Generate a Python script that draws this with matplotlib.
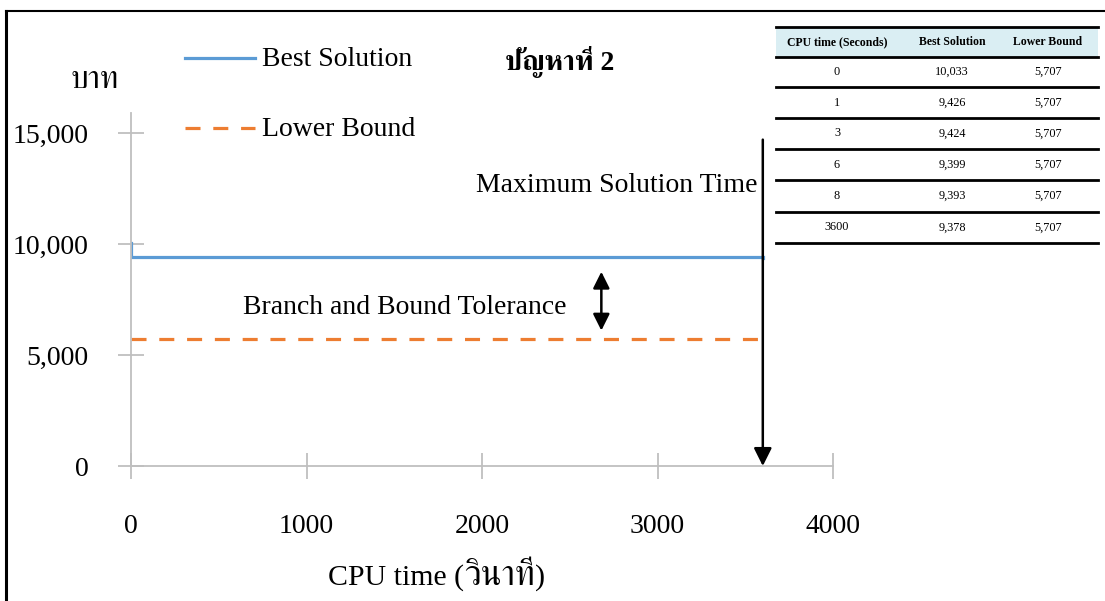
import matplotlib
matplotlib.use("Agg")
import matplotlib.pyplot as plt
from matplotlib import font_manager
from matplotlib.ft2font import FT2Font
from matplotlib.lines import Line2D
from matplotlib.patches import Rectangle

# ---- data -------------------------------------------------------------
cpu_time = [0, 1, 3, 6, 8, 3600]
best_solution = [10033, 9426, 9424, 9399, 9393, 9378]
lower_bound = [5707, 5707, 5707, 5707, 5707, 5707]

x_ticks = [0, 1000, 2000, 3000, 4000]
y_ticks = [0, 5000, 10000, 15000]
y_tick_labels = ["0", "5,000", "10,000", "15,000"]

max_time = 3600
tol_x = 2680
tol_top, tol_bottom = 8750, 6100

table_header = ["CPU time (Seconds)", "Best Solution", "Lower Bound"]

# ---- fonts ------------------------------------------------------------
def thai_family():
    found = []
    for fe in font_manager.fontManager.ttflist:
        try:
            cmap = FT2Font(fe.fname).get_charmap()
        except Exception:
            continue
        if 0x0E1A in cmap:
            found.append(fe.name)
    if not found:
        return None
    for key in ("Serif", "Norasi", "Kinnari", "Garuda", "Loma"):
        for n in found:
            if key in n:
                return n
    return found[0]

thai = thai_family()
serif = ["Liberation Serif"] + ([thai] if thai else []) + ["DejaVu Sans"]
plt.rcParams["font.family"] = serif

W, H = 1105, 601
fig = plt.figure(figsize=(W / 100, H / 100), dpi=100)


def px(x, y):
    return x / W, 1 - y / H


# ---- axes -------------------------------------------------------------
x0, x1, y0, y1 = 131, 833, 466, 113
ax = fig.add_axes([x0 / W, 1 - y0 / H, (x1 - x0) / W, (y0 - y1) / H])
ax.set_xlim(0, 4000)
ax.set_ylim(0, 15900)
for s in ("top", "right"):
    ax.spines[s].set_visible(False)
for s in ("left", "bottom"):
    ax.spines[s].set_color("#bfbfbf")
    ax.spines[s].set_linewidth(1.3)
ax.set_xticks(x_ticks)
ax.set_yticks(y_ticks)
ax.set_yticklabels(y_tick_labels)
ax.tick_params(axis="both", direction="inout", length=19, width=1.3,
               color="#bfbfbf", labelsize=20)
ax.tick_params(axis="y", pad=21)
ax.tick_params(axis="x", pad=25)
ax.patch.set_alpha(0)

ax.step(cpu_time, best_solution, where="post", color="#5b9bd5", lw=2.3,
        solid_joinstyle="miter")
ax.plot([cpu_time[0], cpu_time[-1]], [lower_bound[0], lower_bound[-1]],
        color="#ed7d31", lw=2.3, dashes=(4.7, 4.0))

# arrows
ax.annotate("", xy=(max_time, 0), xytext=(max_time, 14700),
            arrowprops=dict(arrowstyle="-|>", color="black", lw=1.8,
                            mutation_scale=27, shrinkA=0, shrinkB=0),
            annotation_clip=False)
ax.annotate("", xy=(tol_x, tol_bottom), xytext=(tol_x, tol_top),
            arrowprops=dict(arrowstyle="<|-|>", color="black", lw=1.8,
                            mutation_scale=25, shrinkA=0, shrinkB=0))

# ---- text -------------------------------------------------------------
fig.text(*px(95, 80), "บาท", fontsize=23, ha="center", va="center")
fig.text(*px(560, 62), "ปัญหาที่ 2", fontsize=20, fontweight="bold",
         ha="center", va="center")
fig.text(*px(757, 186), "Maximum Solution Time", fontsize=20,
         ha="right", va="center")
fig.text(*px(405, 308), "Branch and Bound Tolerance", fontsize=20,
         ha="center", va="center")

# x-axis title: Latin and Thai parts set at their own sizes
renderer = fig.canvas.get_renderer()
parts = [("CPU time (", 21.5), ("วินาที", 25), (")", 21.5)]
widths = []
for s, fs in parts:
    t = fig.text(0, 0, s, fontsize=fs)
    widths.append(t.get_window_extent(renderer).width)
    t.remove()
xpos = 437 - sum(widths) / 2
for (s, fs), w in zip(parts, widths):
    fig.text(xpos / W, 1 - 585 / H, s, fontsize=fs, ha="left",
             va="baseline")
    xpos += w

# legend
fig.add_artist(Line2D([185 / W, 255 / W], [1 - 58 / H, 1 - 58 / H],
                      color="#5b9bd5", lw=2.3))
fig.add_artist(Line2D([185 / W, 255 / W], [1 - 128 / H, 1 - 128 / H],
                      color="#ed7d31", lw=2.3, dashes=(4.7, 4.0)))
fig.text(*px(262, 60), "Best Solution", fontsize=20, va="center")
fig.text(*px(262, 130), "Lower Bound", fontsize=20, va="center")

# ---- table ------------------------------------------------------------
tl, tr = 776, 1098
row_edges = [27, 57, 87, 118, 149, 180, 212, 243]
col_centers = [837, 952, 1048]
fig.add_artist(Rectangle(px(tl, row_edges[1]), (tr - tl) / W,
                         (row_edges[1] - row_edges[0]) / H,
                         transform=fig.transFigure, color="#daeef3", lw=0))
for ye in row_edges:
    fig.add_artist(Line2D([tl / W, tr / W], [1 - ye / H, 1 - ye / H],
                          color="black", lw=2.0))
hc = (row_edges[0] + row_edges[1]) / 2
for cx, label in zip(col_centers, table_header):
    fig.text(*px(cx, hc), label, fontsize=8.5, fontweight="bold",
             ha="center", va="center")
for i, (t, b, lb) in enumerate(zip(cpu_time, best_solution, lower_bound)):
    yc = (row_edges[i + 1] + row_edges[i + 2]) / 2
    for cx, val in zip(col_centers, [str(t), f"{b:,}", f"{lb:,}"]):
        fig.text(*px(cx, yc), val, fontsize=8.8, ha="center", va="center")

# ---- frame ------------------------------------------------------------
fig.add_artist(Line2D([6 / W, 6 / W], [0, 1 - 11 / H], color="black", lw=2.2))
fig.add_artist(Line2D([6 / W, 1], [1 - 11 / H, 1 - 11 / H], color="black",
                      lw=1.5))

fig.savefig("out.png", dpi=100)
